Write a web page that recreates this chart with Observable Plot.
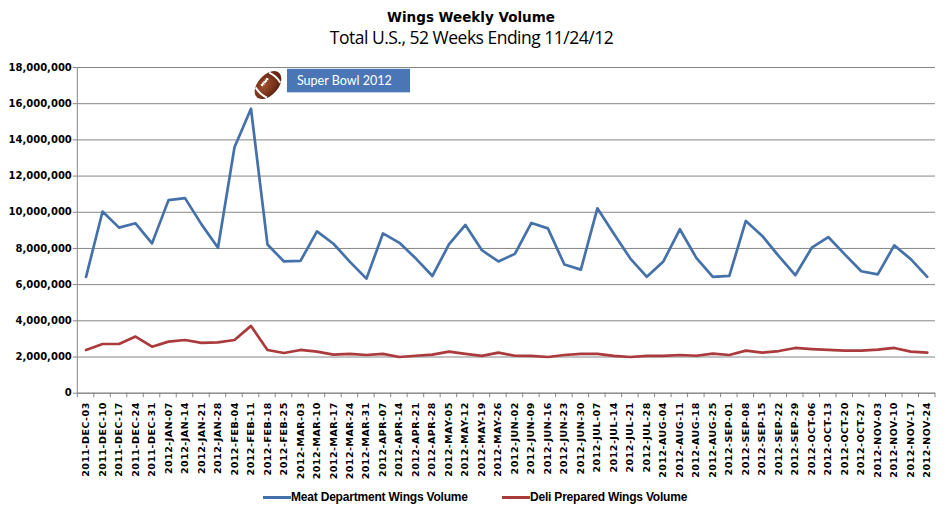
<!DOCTYPE html>
<html>
<head>
<meta charset="utf-8">
<script src="https://cdn.jsdelivr.net/npm/d3@7"></script>
<script src="https://cdn.jsdelivr.net/npm/@observablehq/plot@0.6"></script>
<style>
  body { margin: 0; background: #fff; }
  #wrap { width: 951px; height: 518px; position: relative; overflow: hidden; background: #fff; }
  .abs { position: absolute; white-space: nowrap; }
  #t1 { font: bold 13.5px "DejaVu Sans"; line-height: 1; top: 11px; left: 0; width: 942px; text-align: center; color: #000; }
  #t2 { font: 17.5px "Open Sans"; line-height: 1; top: 29px; left: 0; width: 943px; text-align: center; color: #000; letter-spacing: -0.5px; }
  #chart { position: absolute; left: 0; top: 55px; }
  .lg-line { position: absolute; height: 3px; }
  .lg-text { position: absolute; font: bold 12px "Liberation Sans"; line-height: 1; color: #000; letter-spacing: -0.2px; }
</style>
</head>
<body>
<div id="wrap">
  <div id="t1" class="abs">Wings Weekly Volume</div>
  <div id="t2" class="abs">Total U.S., 52 Weeks Ending 11/24/12</div>
  <div id="chart"></div>
  <div id="legend"></div>
</div>
<script>
const weeks = [
  "2011-DEC-03","2011-DEC-10","2011-DEC-17","2011-DEC-24","2011-DEC-31",
  "2012-JAN-07","2012-JAN-14","2012-JAN-21","2012-JAN-28",
  "2012-FEB-04","2012-FEB-11","2012-FEB-18","2012-FEB-25",
  "2012-MAR-03","2012-MAR-10","2012-MAR-17","2012-MAR-24","2012-MAR-31",
  "2012-APR-07","2012-APR-14","2012-APR-21","2012-APR-28",
  "2012-MAY-05","2012-MAY-12","2012-MAY-19","2012-MAY-26",
  "2012-JUN-02","2012-JUN-09","2012-JUN-16","2012-JUN-23","2012-JUN-30",
  "2012-JUL-07","2012-JUL-14","2012-JUL-21","2012-JUL-28",
  "2012-AUG-04","2012-AUG-11","2012-AUG-18","2012-AUG-25",
  "2012-SEP-01","2012-SEP-08","2012-SEP-15","2012-SEP-22","2012-SEP-29",
  "2012-OCT-06","2012-OCT-13","2012-OCT-20","2012-OCT-27",
  "2012-NOV-03","2012-NOV-10","2012-NOV-17","2012-NOV-24"
];
const meatVolume = [
  6430000,10040000,9150000,9390000,8280000,10670000,10780000,9330000,8040000,13590000,
  15720000,8220000,7280000,7310000,8940000,8260000,7260000,6330000,8830000,8310000,
  7440000,6480000,8220000,9300000,7900000,7280000,7700000,9410000,9110000,7110000,
  6830000,10220000,8810000,7440000,6430000,7280000,9060000,7480000,6430000,6480000,
  9520000,8690000,7570000,6520000,8040000,8630000,7670000,6740000,6570000,8170000,
  7410000,6430000
];
const deliVolume = [
  2390000,2720000,2720000,3130000,2570000,2850000,2940000,2780000,2810000,2940000,
  3720000,2390000,2220000,2390000,2300000,2130000,2170000,2110000,2170000,2000000,
  2070000,2130000,2300000,2170000,2060000,2240000,2070000,2060000,2000000,2110000,
  2170000,2170000,2060000,2000000,2060000,2060000,2110000,2070000,2190000,2110000,
  2350000,2240000,2330000,2500000,2440000,2390000,2350000,2350000,2410000,2500000,
  2300000,2240000
];
const seriesNames = ["Meat Department Wings Volume", "Deli Prepared Wings Volume"];
const seriesColors = ["#4471a9", "#ab3a3c"];
const yTicks = [0,2000000,4000000,6000000,8000000,10000000,12000000,14000000,16000000,18000000];
const annotationLabel = "Super Bowl 2012";
const annotationWeek = "2012-FEB-11";

const rows = [];
weeks.forEach((w, i) => {
  rows.push({week: w, value: meatVolume[i], series: seriesNames[0]});
  rows.push({week: w, value: deliVolume[i], series: seriesNames[1]});
});

const plot = Plot.plot({
  width: 951,
  height: 425,
  marginTop: 12,
  marginBottom: 87.3,
  marginLeft: 77.3,
  marginRight: 16,
  style: {fontFamily: "DejaVu Sans", background: "#fff", color: "#000", overflow: "visible"},
  x: {type: "point", domain: weeks, padding: 0.5, round: false, axis: null},
  y: {domain: [0, 18000000], axis: null},
  color: {domain: seriesNames, range: seriesColors},
  marks: [
    Plot.gridY(yTicks, {stroke: "#868686", strokeOpacity: 1}),
    Plot.ruleY([0], {stroke: "#868686"}),
    Plot.axisY(yTicks, {tickSize: 4.5, tickPadding: 1.5, stroke: "#868686", tickFormat: d3.format(","), fontWeight: "bold", fontSize: 10, label: null}),
    Plot.axisX({tickSize: 0, tickPadding: 9, tickRotate: -90, fontWeight: "bold", fontSize: 9.5, label: null}),
    Plot.line(rows, {x: "week", y: "value", z: "series", stroke: "series", strokeWidth: 2.7, strokeLinejoin: "round"})
  ]
});

document.getElementById("chart").appendChild(plot);

// Post-render decorations placed through the plot's own scales
const sx = plot.scale("x"), sy = plot.scale("y");
const svg = d3.select(plot);
const step = sx.apply(weeks[1]) - sx.apply(weeks[0]);
const x0 = sx.apply(weeks[0]) - step / 2;
const yTop = sy.apply(18000000), yBase = sy.apply(0);

svg.selectAll('g[aria-label="x-axis tick label"] text').style("letter-spacing", "0.5px");

// Value-axis line
svg.append("line").attr("x1", x0).attr("x2", x0).attr("y1", yTop).attr("y2", yBase)
  .attr("stroke", "#868686");
// Category tick marks between weeks
const tg = svg.append("g").attr("stroke", "#868686");
for (let i = 0; i <= weeks.length; i++) {
  const xx = x0 + i * step;
  tg.append("line").attr("x1", xx).attr("x2", xx).attr("y1", yBase).attr("y2", yBase + 4.5);
}

// Super Bowl annotation: football + label box
const ax = sx.apply(annotationWeek);
const fx = ax + 17.5, fy = sy.apply(17000000);
const defs = svg.append("defs");
const grad = defs.append("radialGradient").attr("id", "ballgrad").attr("cx", "40%").attr("cy", "40%").attr("r", "65%");
grad.append("stop").attr("offset", "0%").attr("stop-color", "#a0502c");
grad.append("stop").attr("offset", "100%").attr("stop-color", "#5a1f0f");
const fb = svg.append("g").attr("transform", `translate(${fx},${fy}) rotate(-48)`);
fb.append("ellipse").attr("rx", 16.5).attr("ry", 10).attr("fill", "url(#ballgrad)");
fb.append("path").attr("d", "M-10,-7.5 Q-12.5,0 -10,7.5").attr("stroke", "#fff").attr("stroke-width", 2).attr("fill", "none");
fb.append("path").attr("d", "M10,-7.5 Q12.5,0 10,7.5").attr("stroke", "#fff").attr("stroke-width", 2).attr("fill", "none");
fb.append("line").attr("x1", -5).attr("x2", 5).attr("y1", -4.5).attr("y2", -4.5).attr("stroke", "#fff").attr("stroke-width", 1.3);
for (let k = -4; k <= 4; k += 2) {
  fb.append("line").attr("x1", k).attr("x2", k).attr("y1", -6).attr("y2", -3).attr("stroke", "#fff").attr("stroke-width", 1);
}
const bx = sx.apply(weeks[11]) + 20;
const by1 = sy.apply(17900000), by2 = sy.apply(16600000);
svg.append("rect").attr("x", bx).attr("y", by1).attr("width", 123).attr("height", by2 - by1)
  .attr("fill", "#4a76b6");
svg.append("text").attr("x", bx + 10).attr("y", (by1 + by2) / 2 + 4.3)
  .attr("text-anchor", "start")
  .attr("fill", "#fff").attr("font-family", "Lato").attr("font-size", 12.5)
  .text(annotationLabel);

// Legend below the chart
const legend = document.getElementById("legend");
const legendPos = [{line: 263, text: 291}, {line: 502, text: 530}];
seriesNames.forEach((name, i) => {
  const ln = document.createElement("div");
  ln.className = "lg-line";
  ln.style.left = legendPos[i].line + "px";
  ln.style.width = "28px";
  ln.style.top = "495.5px";
  ln.style.background = seriesColors[i];
  legend.appendChild(ln);
  const tx = document.createElement("div");
  tx.className = "lg-text";
  tx.style.left = legendPos[i].text + "px";
  tx.style.top = "490.5px";
  tx.textContent = name;
  legend.appendChild(tx);
});
</script>
</body>
</html>
